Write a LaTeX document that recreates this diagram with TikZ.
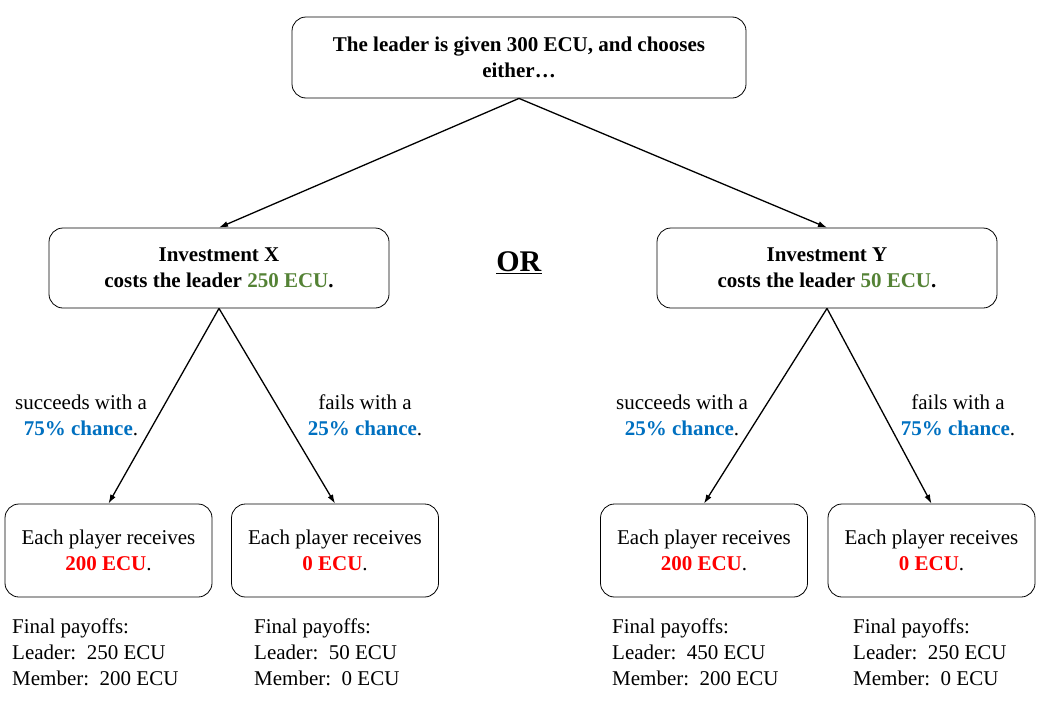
\documentclass[tikz,border=0pt]{standalone}
\usepackage{fontspec}
\setmainfont{Liberation Serif}
\usetikzlibrary{arrows.meta}

\begin{document}
\begin{tikzpicture}[x=1pt, y=-1pt, font=\fontsize{21}{26}\selectfont]
        % Colours
        \definecolor{costGreen}{RGB}{84, 130, 53}
        \definecolor{chanceBlue}{RGB}{0, 112, 192}
        \definecolor{payRed}{RGB}{255, 0, 0}

        \tikzset{
            box/.style={draw, rounded corners=14pt, line width=0.8pt, align=center},
            leaf/.style={box, minimum width=207pt, minimum height=93pt},
            branch/.style={->, >={Latex[length=9pt, width=6pt]}, line width=1.3pt},
            chance/.style={align=center, inner sep=0pt}
        }

        \useasboundingbox (0,0) rectangle (1040,720);

        % Decision
        \node[box, minimum width=454pt, minimum height=81pt] (leader) at (519, 57.5)
            {\textbf{The leader is given 300 ECU, and chooses}\\\textbf{either\ldots}};
        \node[box, minimum width=340pt, minimum height=80pt] (invX) at (219, 268)
            {\textbf{Investment X}\\\textbf{costs the leader \textcolor{costGreen}{250 ECU}.}};
        \node[box, minimum width=340pt, minimum height=80pt] (invY) at (827, 268)
            {\textbf{Investment Y}\\\textbf{costs the leader \textcolor{costGreen}{50 ECU}.}};
        \node[font=\fontsize{30}{30}\selectfont] (or) at (519, 263) {\underline{\textbf{OR}}};

        % Outcomes
        \foreach \name/\x/\amt in {xs/108.5/200, xf/335/0, ys/704/200, yf/931.5/0} {
            \node[leaf] (\name) at (\x, 550.5)
                {Each player receives\\\textcolor{payRed}{\textbf{\amt\ ECU}}.};
        }

        % Chances
        \node[chance] (xsP) at (81, 415)  {succeeds with a\\\textcolor{chanceBlue}{\textbf{75\% chance}}.};
        \node[chance] (xfP) at (365, 415) {fails with a\\\textcolor{chanceBlue}{\textbf{25\% chance}}.};
        \node[chance] (ysP) at (682, 415) {succeeds with a\\\textcolor{chanceBlue}{\textbf{25\% chance}}.};
        \node[chance] (yfP) at (958, 415) {fails with a\\\textcolor{chanceBlue}{\textbf{75\% chance}}.};

        % Payoffs
        \foreach \x/\lead/\mem [count=\i] in {12/250/200, 254/50/0, 612/450/200, 853/250/0} {
            \node[anchor=north west, align=left, inner sep=0pt] (pay\i) at (\x, 619)
                {Final payoffs:\\Leader:\ \ \lead\ ECU\\Member:\ \ \mem\ ECU};
        }

        % Branches
        \draw[branch] (leader.south) -- (invX.north);
        \draw[branch] (leader.south) -- (invY.north);
        \draw[branch] (invX.south) -- (xs.north);
        \draw[branch] (invX.south) -- (xf.north);
        \draw[branch] (invY.south) -- (ys.north);
        \draw[branch] (invY.south) -- (yf.north);
    \end{tikzpicture}
\end{document}
